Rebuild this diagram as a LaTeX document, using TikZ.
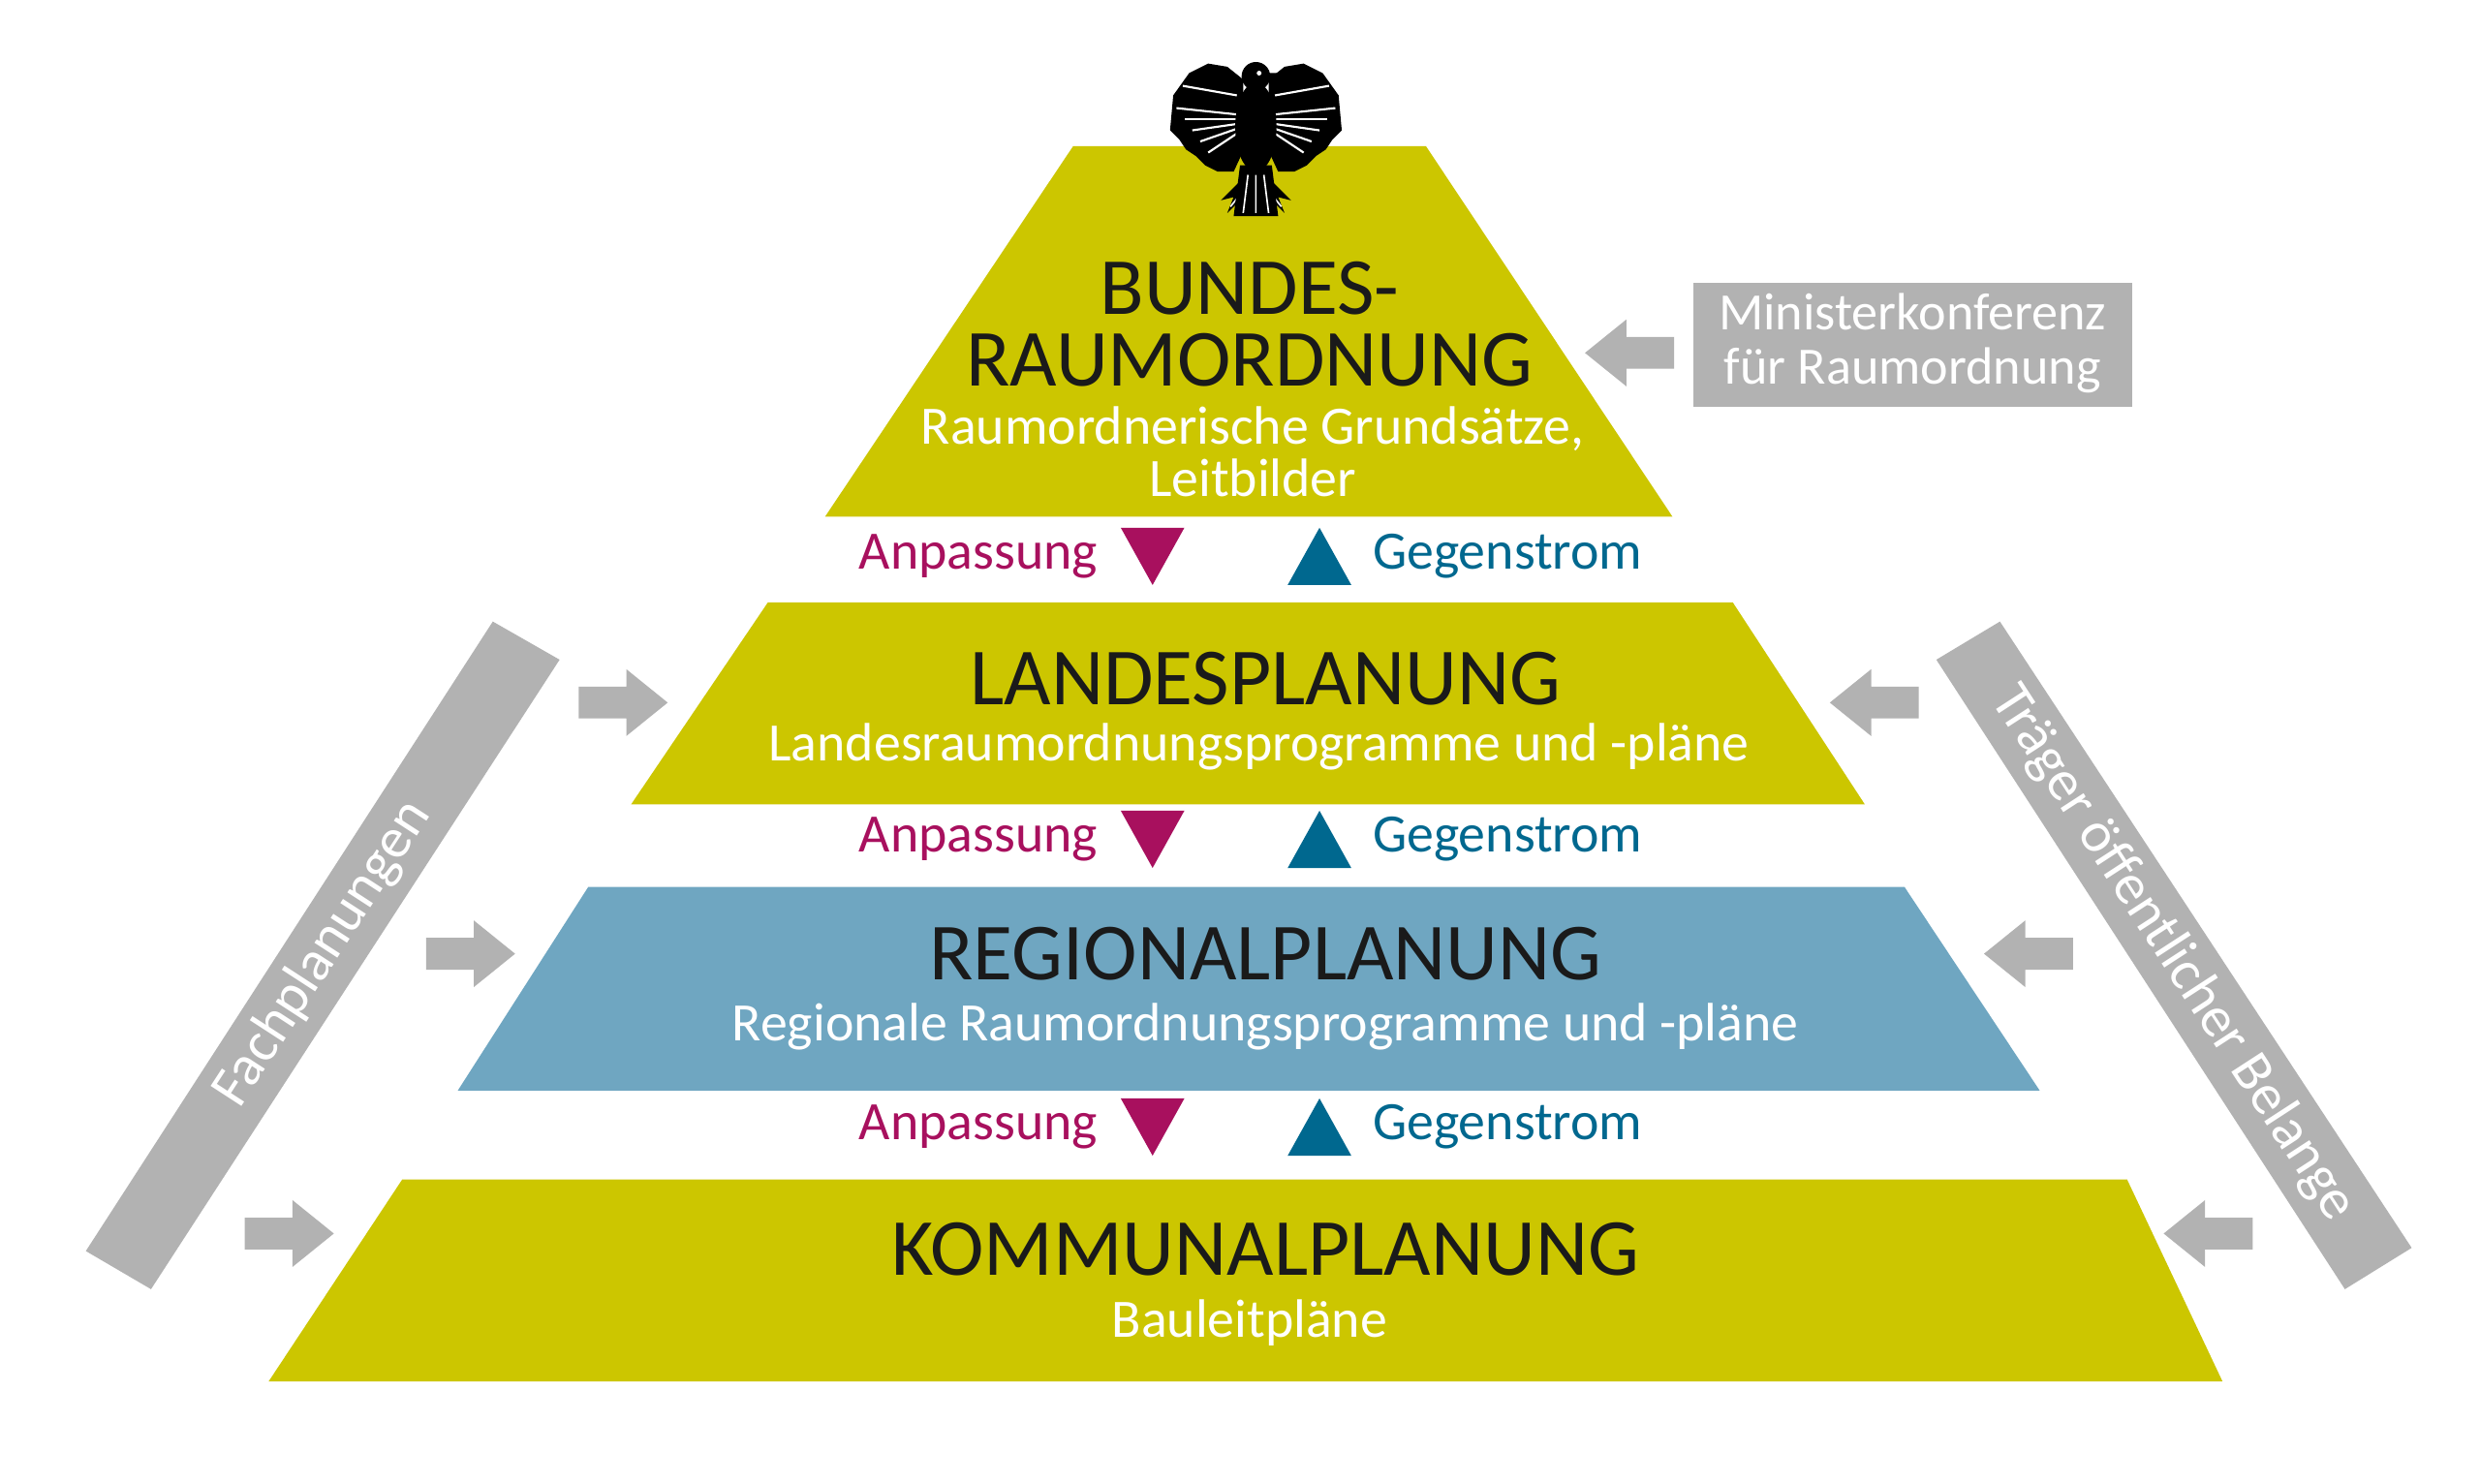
\documentclass[tikz,border=0pt]{standalone}
\usepackage{fontspec}
\setmainfont{Carlito}
\definecolor{olive}{RGB}{204,198,0}
\definecolor{blu}{RGB}{111,166,193}
\definecolor{grayc}{RGB}{178,178,178}
\definecolor{mag}{RGB}{168,16,94}
\definecolor{dblue}{RGB}{0,104,143}
\definecolor{txt}{RGB}{26,26,26}
\tikzset{
 big/.style={font=\fontsize{51}{45}\selectfont, text=txt, align=center},
 sub/.style={font=\fontsize{34}{33}\selectfont, text=white, align=center},
 anp/.style={font=\fontsize{34}{33}\selectfont, text=mag, anchor=east},
 geg/.style={font=\fontsize{34}{33}\selectfont, text=dblue, anchor=west},
 side/.style={font=\fontsize{36}{36}\selectfont, text=white},
 rarr/.pic={\fill[grayc] (-28,-10) -- (2,-10) -- (2,-21) -- (28,0) -- (2,21) -- (2,10) -- (-28,10) -- cycle;},
 larr/.pic={\fill[grayc] (28,-10) -- (-2,-10) -- (-2,-21) -- (-28,0) -- (-2,21) -- (-2,10) -- (28,10) -- cycle;},
 dtri/.pic={\fill[mag] (-20,-18) -- (20,-18) -- (0,18) -- cycle;},
 utri/.pic={\fill[dblue] (-20,18) -- (20,18) -- (0,-18) -- cycle;}
}
\begin{document}
\begin{tikzpicture}[x=1pt,y=-1pt]
\useasboundingbox[fill=white] (0,0) rectangle (1560,933);
% levels
\fill[olive] (675,92) -- (897,92) -- (1052,325) -- (519,325) -- cycle;
\fill[olive] (483,379) -- (1090,379) -- (1173,506) -- (397,506) -- cycle;
\fill[blu] (370,558) -- (1198,558) -- (1283,686) -- (288,686) -- cycle;
\fill[olive] (253,742) -- (1338,742) -- (1398,869) -- (169,869) -- cycle;
\node[big] (b1) at (786,204) {BUNDES-\\RAUMORDNUNG};
\node[sub] (b2) at (788,284) {Raumordnerische Grundsätze,\\Leitbilder};
\node[big] (l1) at (796,427) {LANDESPLANUNG};
\node[sub] (l2) at (792,470) {Landesraumordnungsprogramme und -pläne};
\node[big] (r1) at (796,600) {REGIONALPLANUNG};
\node[sub] (r2) at (796,646) {Regionale Raumordnungsprogramme und -pläne};
\node[big] (k1) at (796,786) {KOMMUNALPLANUNG};
\node[sub] (k2) at (786,832) {Bauleitpläne};
% anpassung / gegenstrom
\foreach \y/\n in {350/a,528/b,709/c}{
 \node[anp] (anp\n) at (694,\y) {Anpassung};
 \pic at (725,\y) {dtri};
 \pic at (830,\y) {utri};
 \node[geg] (geg\n) at (860,\y) {Gegenstrom};
}
% minister box
\fill[grayc] (1065,178) rectangle (1341,256);
\node[side, align=center, font=\fontsize{33}{34}\selectfont] (mk) at (1203,216) {Ministerkonferenz\\für Raumordnung};
\pic at (1025,222) {larr};
% side bars
\fill[grayc] (310,391) -- (352,415) -- (95,811) -- (54,787) -- cycle;
\fill[grayc] (1218,415) -- (1258,391) -- (1517,785) -- (1475,811) -- cycle;
\node[side, rotate=57] (fp) at (203,600) {Fachplanungen};
\node[side, rotate=-57] (tb) at (1367,600) {Träger öffentlicher Belange};
\pic at (392,442) {rarr};
\pic at (296,600) {rarr};
\pic at (182,776) {rarr};
\pic at (1179,442) {larr};
\pic at (1276,600) {larr};
\pic at (1389,776) {larr};
% eagle
\begin{scope}[shift={(790,90)}]
 \foreach \s in {1,-1}{
  \begin{scope}[xscale=\s]
   \fill[black] (-8,-40) -- (-18,-48) -- (-30,-50) -- (-42,-44) -- (-52,-30)
     -- (-54,-8) -- (-48,-2) -- (-44,4) -- (-38,8) -- (-32,14) -- (-24,18) -- (-14,18) -- (-8,5) -- cycle;
   \foreach \a in {0,1,2,3,4}{
     \draw[white, line width=1.3] (-12,-18+\a*3) -- (-50+\a*5,-22+\a*7);
   }
   \draw[white, line width=1.3] (-12,-30) -- (-46,-36);
   \fill[black] (-8,22) -- (-22,36) -- (-14,34) -- (-18,44) -- (-10,36) -- (-6,44) -- (-4,30) -- cycle;
   \draw[white, line width=1] (-8,30) -- (-16,40);
  \end{scope}
 }
 \fill[black] (0,-10) ellipse (13 and 28);
 \fill[black] (0,-42) circle (9);
 \fill[black] (6,-44) -- (16,-44) -- (12,-36) -- cycle;
 \fill[white] (2,-44) circle (1.5);
 \fill[black] (-10,14) -- (10,14) -- (14,46) -- (-14,46) -- cycle;
 \draw[white, line width=1] (0,20) -- (0,44) (-5,20) -- (-8,44) (5,20) -- (8,44);
\end{scope}
\end{tikzpicture}
\end{document}
